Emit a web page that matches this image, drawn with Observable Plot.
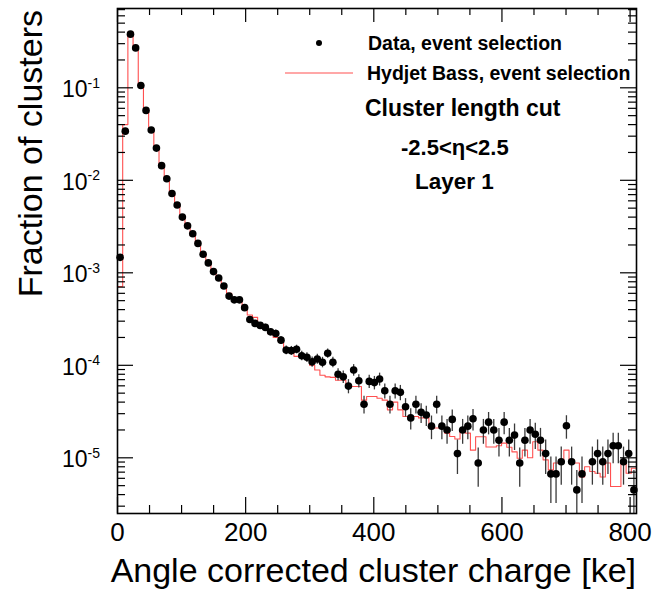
<!DOCTYPE html>
<html><head><meta charset="utf-8">
<script src="https://cdn.jsdelivr.net/npm/d3@7"></script>
<script src="https://cdn.jsdelivr.net/npm/@observablehq/plot@0.6"></script>
<style>
body{margin:0;background:#fff}
svg{font-family:"Liberation Sans",Arial,Helvetica,sans-serif}
</style>
</head><body><div id="chart"></div>
<script>
// Histogram binning: 100 bins from 0 to 810 ke
const chargeMin = 0, chargeMax = 810, nBins = 100;

// Data, event selection (fraction of clusters per bin); null = empty bin
const dataFrac = [
 1.47e-3, 0.034, 0.38, 0.27, 0.106, 0.057, 0.035, 0.0223, 0.0144, 0.0104,
 0.0072, 0.0054, 0.0040, 0.00322, 0.00264, 0.00208, 0.00159, 0.00128, 0.00103, 0.00088,
 0.00072, 0.00056, 0.00051, 0.00051, 0.00042, 0.000313, 0.000284, 0.00027, 0.000257, 0.00023,
 0.000221, 0.000187, 0.000146, 0.000144, 0.000149, 0.000127, 0.000122, 0.000109, 0.000117, 0.000108,
 0.000135, 0.000108, 8.0e-5, 7.5e-5, 5.96e-5, 8.9e-5, 6.8e-5, 3.8e-5, 6.7e-5, 6.5e-5,
 7.1e-5, 5.3e-5, 3.8e-5, 5.3e-5, 5.1e-5, 3.56e-5, 2.7e-5, 3.8e-5, 3.1e-5, 2.9e-5,
 2.2e-5, 3.8e-5, 2.2e-5, 2.0e-5, 2.6e-5, 1.11e-5, 2.0e-5, 2.2e-5, 2.64e-5, 8.8e-6,
 2.0e-5, 2.43e-5, 2.0e-5, 1.55e-5, 2.43e-5, 1.55e-5, 1.76e-5, 8.8e-6, 1.55e-5, 2.0e-5,
 1.8e-5, 1.55e-5, 1.11e-5, 6.7e-6, 6.7e-6, 9.06e-6, 2.22e-5, 9.06e-6, 4.5e-6, 6.7e-6,
 null, 9.06e-6, 1.11e-5, 9.06e-6, 1.11e-5, 1.35e-5, 1.35e-5, 9.06e-6, 1.11e-5, 4.5e-6
];

// Statistical error of the data points
const dataErr = [
 0,0,0,0,0,0,0,0,0,0,
 0,0,0,0,0,0,0,0,0,0,
 0,0,0,0,0,0,0,0,2.1e-5,2.0e-5,
 2.0e-5,1.8e-5,1.6e-5,1.6e-5,1.6e-5,1.5e-5,1.5e-5,1.4e-5,1.45e-5,1.4e-5,
 1.55e-5,1.4e-5,1.2e-5,1.16e-5,1.04e-5,1.27e-5,1.1e-5,8.3e-6,1.1e-5,1.08e-5,
 1.13e-5,9.8e-6,8.3e-6,9.8e-6,9.6e-6,8.0e-6,7.0e-6,8.3e-6,7.5e-6,7.2e-6,
 6.3e-6,8.3e-6,6.3e-6,6.0e-6,6.8e-6,4.5e-6,6.0e-6,6.3e-6,6.9e-6,4.0e-6,
 6.0e-6,6.6e-6,6.0e-6,5.3e-6,6.6e-6,5.3e-6,5.6e-6,4.0e-6,5.3e-6,6.0e-6,
 5.7e-6,5.3e-6,4.5e-6,3.5e-6,3.5e-6,4.0e-6,6.3e-6,4.0e-6,2.8e-6,3.5e-6,
 0,4.0e-6,4.5e-6,4.0e-6,4.5e-6,4.9e-6,4.9e-6,4.0e-6,4.5e-6,2.8e-6
];

// Hydjet Bass, event selection (simulation histogram)
const mcFrac = [
 7.1e-4, 0.040, 0.40, 0.28, 0.105, 0.057, 0.034, 0.0215, 0.0142, 0.0102,
 0.0071, 0.0053, 0.0040, 0.0032, 0.00255, 0.00205, 0.00160, 0.00126, 0.00104, 0.00086,
 0.00070, 0.00060, 0.00050, 0.00049, 0.00041, 0.00035, 0.00033, 0.00027, 0.00025, 0.00022,
 0.00020, 0.000180, 0.000150, 0.000140, 0.000125, 0.000124, 0.000118, 0.000100, 0.000089, 0.000078,
 0.000075, 0.000074, 0.000069, 0.000069, 0.000060, 0.000059, 0.000059, 0.000042, 0.000046, 0.000046,
 0.000044, 0.000042, 0.000033, 0.000040, 0.000033, 0.000028, 0.000028, 0.000028, 0.000027, 0.000027,
 0.000021, 0.000021, 0.000021, 0.0000185, 0.0000170, 0.0000160, 0.0000190, 0.0000185, 0.0000121, 0.0000169,
 0.0000169, 0.0000131, 0.0000131, 0.0000135, 0.0000144, 0.0000130, 0.0000116, 0.0000099, 0.0000121, 0.0000100,
 0.0000149, 0.0000121, 0.0000095, 0.0000074, 0.0000088, 0.0000095, 0.0000121, 0.0000095, 0.0000088, 0.0000062,
 0.0000080, 0.0000071, 0.0000068, 0.0000062, 0.0000088, 0.0000049, 0.0000049, 0.0000091, 0.0000068, 0.0000077
];

// Axes
const xMajorTicks = [0, 200, 400, 600, 800];
const xMinorTicks = [50, 100, 150, 250, 300, 350, 450, 500, 550, 650, 700, 750];
const yMajorTicks = [1e-5, 1e-4, 1e-3, 1e-2, 1e-1];
const yMajorExp = ["-5", "-4", "-3", "-2", "-1"];
const yDomain = [2.5e-6, 0.72];
const yMinorTicks = [];
for (const e of [-6, -5, -4, -3, -2, -1]) for (let m = 2; m <= 9; m++) {
  const v = m * Math.pow(10, e);
  if (v >= yDomain[0] && v <= yDomain[1]) yMinorTicks.push(v);
}

const xTitle = "Angle corrected cluster charge [ke]";
const yTitle = "Fraction of clusters";
const legendData = "Data, event selection";
const legendMC = "Hydjet Bass, event selection";
const notes = ["Cluster length cut", "-2.5<η<2.5", "Layer 1"];

const binW = (chargeMax - chargeMin) / nBins;
const rows = dataFrac.map((v, i) => ({
  lo: chargeMin + i * binW, center: chargeMin + (i + 0.5) * binW,
  data: v, err: dataErr[i], mc: mcFrac[i]
}));
const pts = rows.filter(r => r.data != null);
const mcSteps = rows.map(r => ({x: r.lo, y: r.mc})).concat([{x: chargeMax, y: mcFrac[nBins - 1]}]);
const bars = pts.filter(r => r.err > 0).map(r => ({x: r.center, y1: Math.max(r.data - r.err, yDomain[0]), y2: r.data + r.err}));

const W = 652, H = 590, mL = 117, mR = 16, mT = 8, mB = 77;
const fH = H - mT - mB, fW = W - mL - mR;

const chart = Plot.plot({
  width: W, height: H,
  marginLeft: mL, marginRight: mR, marginTop: mT, marginBottom: mB,
  style: {fontFamily: "Liberation Sans, Arial, sans-serif", background: "white", color: "black"},
  x: {domain: [chargeMin, chargeMax], axis: null},
  y: {type: "log", domain: yDomain, axis: null},
  marks: [
    Plot.line(mcSteps, {x: "x", y: "y", curve: "step-after", stroke: "#ff5050", strokeWidth: 1.1, clip: true}),
    Plot.ruleX(bars, {x: "x", y1: "y1", y2: "y2", stroke: "#3a3a3a", strokeWidth: 1.3, clip: true}),
    Plot.dot(pts, {x: "center", y: "data", r: 3.8, fill: "black", stroke: "none"}),
    // ticks inside frame
    Plot.tickX(xMajorTicks, {x: d => d, insetTop: fH - 16, stroke: "black", strokeWidth: 1.2}),
    Plot.tickX(xMinorTicks, {x: d => d, insetTop: fH - 8, stroke: "black", strokeWidth: 1.2}),
    Plot.tickX(xMajorTicks, {x: d => d, insetBottom: fH - 14, stroke: "black", strokeWidth: 1.2}),
    Plot.tickX(xMinorTicks, {x: d => d, insetBottom: fH - 7, stroke: "black", strokeWidth: 1.2}),
    Plot.tickY(yMajorTicks, {y: d => d, insetRight: fW - 16, stroke: "black", strokeWidth: 1.2}),
    Plot.tickY(yMinorTicks, {y: d => d, insetRight: fW - 8, stroke: "black", strokeWidth: 1.2}),
    Plot.tickY(yMajorTicks, {y: d => d, insetLeft: fW - 16, stroke: "black", strokeWidth: 1.2}),
    Plot.tickY(yMinorTicks, {y: d => d, insetLeft: fW - 8, stroke: "black", strokeWidth: 1.2}),
    Plot.frame({stroke: "black", strokeWidth: 1.6}),
    Plot.axisX(xMajorTicks, {tickSize: 0, tickPadding: 9, fontSize: 26, tickFormat: d => String(d), label: null})
  ]
});
document.getElementById("chart").appendChild(chart);

const svg = d3.select(chart);
const ys = chart.scale("y");
const g = svg.append("g").attr("fill", "black").attr("text-anchor", "start");

// y tick labels with superscripts
yMajorTicks.forEach((v, i) => {
  const ty = ys.apply(v);
  const t = g.append("text").attr("x", 100).attr("y", ty + 10).attr("text-anchor", "end").attr("font-size", 23);
  t.append("tspan").text("10");
  t.append("tspan").attr("dy", -9.5).attr("font-size", 14).text(yMajorExp[i]);
});

// axis titles
g.append("text").attr("x", 636).attr("y", 582).attr("text-anchor", "end").attr("font-size", 34).text(xTitle);
g.append("text").attr("transform", "translate(42,10) rotate(-90)").attr("text-anchor", "end").attr("font-size", 34).text(yTitle);

// legend
g.append("circle").attr("cx", 319).attr("cy", 43).attr("r", 3).attr("fill", "black");
g.append("text").attr("x", 368).attr("y", 50).attr("text-anchor", "start").attr("font-size", 19.5).attr("font-weight", "bold").text(legendData);
g.append("line").attr("x1", 285).attr("x2", 353).attr("y1", 73).attr("y2", 73).attr("stroke", "#ff5050").attr("stroke-width", 1.2);
g.append("text").attr("x", 367).attr("y", 80).attr("text-anchor", "start").attr("font-size", 19.5).attr("font-weight", "bold").text(legendMC);

// annotations
g.append("text").attr("x", 365).attr("y", 116).attr("text-anchor", "start").attr("font-size", 23).attr("font-weight", "bold").text(notes[0]);
g.append("text").attr("x", 401).attr("y", 155).attr("text-anchor", "start").attr("font-size", 22).attr("font-weight", "bold").text(notes[1]);
g.append("text").attr("x", 415).attr("y", 189).attr("text-anchor", "start").attr("font-size", 22.5).attr("font-weight", "bold").text(notes[2]);
</script>
</body></html>
